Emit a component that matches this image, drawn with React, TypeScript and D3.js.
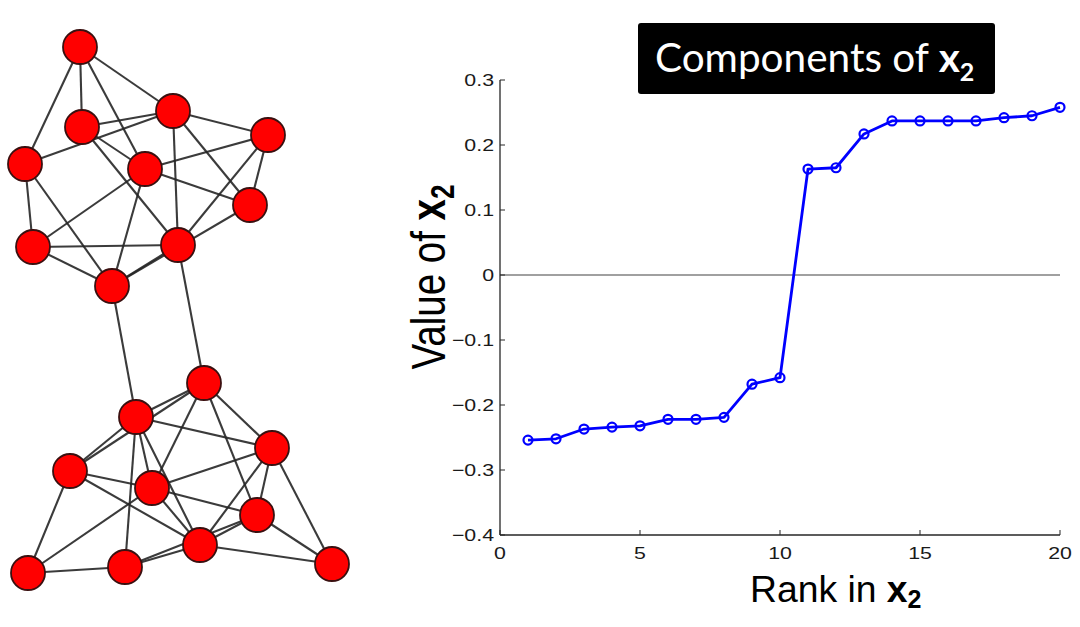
import React from "react";
import * as d3 from "d3";

// ---------- chart data ----------
const ranks = [1, 2, 3, 4, 5, 6, 7, 8, 9, 10, 11, 12, 13, 14, 15, 16, 17, 18, 19, 20];
const x2Values = [
  -0.254, -0.252, -0.237, -0.234, -0.232, -0.222, -0.222, -0.219, -0.168, -0.158,
  0.163, 0.165, 0.217, 0.237, 0.237, 0.237, 0.237, 0.242, 0.245, 0.258,
];
const xTicks = [0, 5, 10, 15, 20];
const yTicks = [-0.4, -0.3, -0.2, -0.1, 0, 0.1, 0.2, 0.3];
const yTickLabels = ["−0.4", "−0.3", "−0.2", "−0.1", "0", "0.1", "0.2", "0.3"];

// ---------- graph (network) data: layout coordinates ----------
const nodeIds = ["A", "B", "C", "D", "E", "F", "G", "H", "I", "J", "K", "L", "M", "N", "O", "P", "Q", "R", "S", "T"];
const nodeLayoutX = [80, 82, 173, 268, 25, 145, 250, 33, 178, 112, 204, 136, 272, 70, 152, 257, 200, 28, 125, 332];
const nodeLayoutY = [47, 127, 111, 135, 164, 169, 205, 247, 245, 286, 383, 417, 448, 471, 488, 515, 545, 573, 567, 564];
const edgeList: [string, string][] = [
  ["A", "B"], ["A", "E"], ["A", "F"], ["A", "C"], ["B", "C"], ["E", "C"], ["B", "F"], ["B", "I"],
  ["C", "D"], ["C", "I"], ["C", "G"], ["D", "F"], ["D", "I"], ["D", "G"], ["F", "G"], ["F", "H"],
  ["F", "J"], ["E", "H"], ["E", "J"], ["H", "I"], ["H", "J"], ["J", "I"], ["J", "G"],
  ["J", "L"], ["I", "K"],
  ["N", "L"], ["N", "K"], ["L", "K"], ["L", "M"], ["L", "O"], ["L", "Q"], ["L", "S"],
  ["K", "O"], ["K", "M"], ["K", "P"], ["M", "O"], ["M", "Q"], ["M", "P"], ["M", "T"],
  ["N", "O"], ["N", "Q"], ["N", "R"], ["R", "O"], ["R", "S"], ["S", "Q"], ["S", "P"],
  ["Q", "P"], ["O", "P"], ["O", "Q"], ["Q", "T"], ["P", "T"],
];

export default function App() {
  const W = 1080;
  const H = 627;
  const x = d3.scaleLinear().domain([0, 20]).range([500, 1060]);
  const y = d3.scaleLinear().domain([-0.4, 0.3]).range([535, 80]);
  const gx = d3.scaleIdentity();
  const gy = d3.scaleIdentity();

  const line = d3
    .line<number>()
    .x((_, i) => x(ranks[i]))
    .y((d) => y(d));

  const idx = (id: string) => nodeIds.indexOf(id);
  const tickFont = "'Liberation Sans', Arial, sans-serif";
  const hs = 1.27; // horizontal stretch of the plot's text

  return (
    <div style={{ position: "absolute", left: 0, top: 0 }}>
      <svg width={W} height={H} style={{ display: "block", background: "#fff" }}>
        <rect x={0} y={0} width={W} height={H} fill="#fff" />

        {/* network */}
        <g>
          {edgeList.map(([a, b], i) => (
            <line
              key={i}
              x1={gx(nodeLayoutX[idx(a)])}
              y1={gy(nodeLayoutY[idx(a)])}
              x2={gx(nodeLayoutX[idx(b)])}
              y2={gy(nodeLayoutY[idx(b)])}
              stroke="#262626"
              strokeWidth={2.1}
              strokeOpacity={0.9}
            />
          ))}
          {nodeIds.map((id, i) => (
            <circle
              key={id}
              cx={gx(nodeLayoutX[i])}
              cy={gy(nodeLayoutY[i])}
              r={17}
              fill="#ff0000"
              stroke="#3a1010"
              strokeWidth={1.8}
            />
          ))}
        </g>

        {/* title box */}
        <rect x={638} y={23} width={357} height={71} rx={3} fill="#000" />
        <text x={655} y={72} fill="#fff" fontFamily="Lato, 'Open Sans', sans-serif" fontSize={40.5}>
          Components of{" "}
          <tspan fontWeight="bold">x</tspan>
          <tspan fontWeight="bold" fontSize={25} dy={9}>2</tspan>
        </text>

        {/* zero line */}
        <line x1={x(0)} x2={x(20)} y1={y(0)} y2={y(0)} stroke="#808080" strokeWidth={1.5} />

        {/* axes */}
        <line x1={x(0)} x2={x(0)} y1={y(0.3)} y2={y(-0.4)} stroke="#262626" strokeWidth={1.3} />
        <line x1={x(0)} x2={x(20)} y1={y(-0.4)} y2={y(-0.4)} stroke="#262626" strokeWidth={1.3} />

        {yTicks.map((t, i) => (
          <g key={"yt" + i}>
            <line x1={x(0)} x2={x(0) + 5} y1={y(t)} y2={y(t)} stroke="#262626" strokeWidth={1} />
            <text
              transform={`translate(${x(0) - 6},${y(t) + 6}) scale(${hs},1)`}
              textAnchor="end"
              fontFamily={tickFont}
              fontSize={16.8}
              fill="#1a1a1a"
            >
              {yTickLabels[i]}
            </text>
          </g>
        ))}
        {xTicks.map((t) => (
          <g key={"xt" + t}>
            <line x1={x(t)} x2={x(t)} y1={y(-0.4)} y2={y(-0.4) - 5} stroke="#262626" strokeWidth={1} />
            <text
              transform={`translate(${x(t)},${y(-0.4) + 24}) scale(${hs},1)`}
              textAnchor="middle"
              fontFamily={tickFont}
              fontSize={16.8}
              fill="#1a1a1a"
            >
              {t}
            </text>
          </g>
        ))}

        {/* series */}
        <path d={line(x2Values) || ""} fill="none" stroke="#0000ff" strokeWidth={2.8} strokeLinejoin="round" />
        {x2Values.map((v, i) => (
          <circle key={"m" + i} cx={x(ranks[i])} cy={y(v)} r={4.5} fill="none" stroke="#0000ff" strokeWidth={2.2} />
        ))}

        {/* y label */}
        <text
          transform={`translate(445,277) scale(${hs},1) rotate(-90)`}
          textAnchor="middle"
          fontFamily={tickFont}
          fontSize={38.5}
          fill="#000"
        >
          Value of <tspan fontWeight="bold">x</tspan>
          <tspan fontWeight="bold" fontSize={26} dy={7}>2</tspan>
        </text>

        {/* x label */}
        <text x={750} y={602} fontFamily={tickFont} fontSize={37.3} fill="#000">
          Rank in <tspan fontWeight="bold">x</tspan>
          <tspan fontWeight="bold" fontSize={25} dy={6}>2</tspan>
        </text>
      </svg>
    </div>
  );
}
